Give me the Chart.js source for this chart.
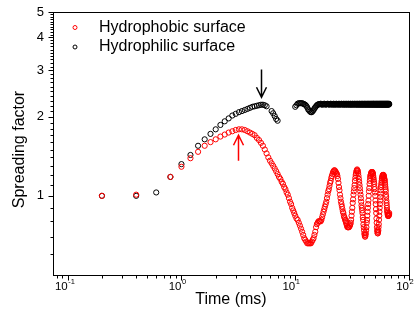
<!DOCTYPE html>
<html>
<head>
<meta charset="utf-8">
<script src="https://cdn.jsdelivr.net/npm/chart.js@4.4.1/dist/chart.umd.min.js"></script>
<style>
html,body{margin:0;padding:0;background:#fff;}
#wrap{width:420px;height:328px;}
</style>
</head>
<body>
<div id="wrap"><canvas id="spreadChart" width="420" height="328"></canvas></div>
<script>
// ======================================================
// DATA
// ======================================================

const times = [
    0.2,0.4,0.6,0.8,1,1.2,1.4,1.6,1.8,2,
    2.2,2.4,2.6,2.8,3,3.2,3.4,3.6,3.8,4,
    4.2,4.4,4.6,4.8,5,5.2,5.4,5.6,5.8,6,
    6.2,6.4,6.6,6.8,7,7.2,7.4,7.6,7.8,8,
    8.2,8.4,8.6,8.8,9,9.2,9.4,9.6,9.8,10,
    10.25,10.5,10.75,11,11.25,11.5,11.75,12,
    12.25,12.5,12.75,13,13.25,13.5,13.75,14,
    14.25,14.5,14.75,15,15.25,15.5,15.75,16,
    16.25,16.5,16.75,17,17.25,17.5,17.75,18,
    18.25,18.5,18.75,19,19.25,19.5,19.75,20,
    20.25,20.5,20.75,21,21.25,21.5,21.75,22,
    22.25,22.5,22.75,23,23.25,23.5,23.75,24,
    24.25,24.5,24.75,25,25.25,25.5,25.75,26,
    26.25,26.5,26.75,27,27.25,27.5,27.75,28,
    28.25,28.5,28.75,29,29.25,29.5,29.75,30,
    30.25,30.5,30.75,31,31.25,31.5,31.75,32,
    32.25,32.5,32.75,33,33.25,33.5,33.75,34,
    34.25,34.5,34.75,35,35.25,35.5,35.75,36,
    36.25,36.5,36.75,37,37.25,37.5,37.75,38,
    38.25,38.5,38.75,39,39.25,39.5,39.75,40,
    40.25,40.5,40.75,41,41.25,41.5,41.75,42,
    42.25,42.5,42.75,43,43.25,43.5,43.75,44,
    44.25,44.5,44.75,45,45.25,45.5,45.75,46,
    46.25,46.5,46.75,47,47.25,47.5,47.75,48,
    48.25,48.5,48.75,49,49.25,49.5,49.75,50,
    50.25,50.5,50.75,51,51.25,51.5,51.75,52,
    52.25,52.5,52.75,53,53.25,53.5,53.75,54,
    54.25,54.5,54.75,55,55.25,55.5,55.75,56,
    56.25,56.5,56.75,57,57.25,57.5,57.75,58,
    58.25,58.5,58.75,59,59.25,59.5,59.75,60,
    60.25,60.5,60.75,61,61.25,61.5,61.75,62,
    62.25,62.5,62.75,63,63.25,63.5,63.75,64,
    64.25,64.5,64.75,65,65.25,65.5,65.75,66,
    66.25,66.5,66.75,67
];

const hydrophobic = [
    1.00,1.01,null,1.18,1.29,1.39,1.47,1.55,1.60,1.64,
    1.68,1.71,1.74,1.76,1.78,1.79,1.79,1.78,1.76,1.74,
    1.72,1.70,1.66,1.63,1.59,1.55,1.50,1.45,1.40,1.36,
    1.33,1.30,1.27,1.24,1.21,1.18,1.16,1.13,1.11,1.08,
    1.06,1.03,1.01,0.98,0.95,0.93,0.90,0.88,0.86,0.84,
    0.82,0.81,0.79,0.77,0.75,0.73,0.71,0.69,
    0.68,0.67,0.66,0.66,0.66,0.66,0.66,0.67,
    0.68,0.69,0.71,0.73,0.76,0.78,0.79,0.80,
    0.80,0.80,0.80,0.81,0.83,0.85,0.87,0.89,
    0.91,0.93,0.95,0.98,1.01,1.04,1.06,1.09,
    1.12,1.14,1.17,1.19,1.21,1.23,1.24,1.25,
    1.25,1.24,1.23,1.22,1.21,1.19,1.16,1.12,
    1.08,1.05,1.01,0.98,0.95,0.93,0.91,0.89,
    0.87,0.86,0.84,0.83,0.82,0.81,0.80,0.79,
    0.78,0.77,0.76,0.76,0.76,0.76,0.76,0.77,
    0.77,0.78,0.79,0.81,0.84,0.87,0.90,0.94,
    0.97,1.01,1.04,1.07,1.10,1.14,1.17,1.20,
    1.22,1.24,1.25,1.26,1.25,1.24,1.22,1.19,
    1.16,1.13,1.10,1.07,1.04,1.01,0.98,0.95,
    0.92,0.90,0.88,0.86,0.83,0.81,0.78,0.76,
    0.74,0.72,0.71,0.70,0.70,0.71,0.72,0.74,
    0.76,0.79,0.81,0.84,0.87,0.90,0.93,0.96,
    1.00,1.04,1.07,1.11,1.14,1.17,1.19,1.20,
    1.21,1.22,1.23,1.23,1.23,1.23,1.23,1.22,
    1.21,1.19,1.17,1.15,1.13,1.11,1.08,1.06,
    1.03,1.00,0.96,0.93,0.89,0.86,0.82,0.79,
    0.76,0.74,0.73,0.72,0.72,0.73,0.74,0.76,
    0.78,0.81,0.84,0.87,0.90,0.93,0.96,0.99,
    1.02,1.05,1.08,1.10,1.12,1.14,1.16,1.17,
    1.18,1.19,1.20,1.20,1.20,1.20,1.20,1.19,
    1.18,1.17,1.16,1.15,1.14,1.12,1.10,1.08,
    1.06,1.04,1.01,0.99,0.96,0.94,0.92,0.90,
    0.88,0.87,0.86,0.85,0.84,0.84,0.84,0.84,
    0.84,0.85,0.85,0.86
];

const hydrophilic = [
    1.00,1.00,1.03,1.18,1.32,1.43,1.55,1.64,1.72,1.79,
    1.86,1.92,1.97,2.02,2.05,2.08,2.10,2.12,2.14,2.16,
    2.18,2.19,2.20,2.21,2.22,2.22,2.21,2.19,null,null,
    2.10,2.06,2.01,1.96,1.93,null,null,null,null,null,
    null,null,null,null,null,null,null,null,null,2.18,
    2.21,2.24,2.25,2.25,2.25,2.25,2.24,2.23,
    2.22,2.20,2.17,2.13,2.11,2.09,2.08,2.08,
    2.10,2.12,2.15,2.17,2.19,2.21,2.22,2.23,
    2.23,2.23,2.24,2.23,2.22,2.23,2.23,2.24,
    2.23,2.22,2.23,2.23,2.24,2.23,2.23,2.22,
    2.23,2.24,2.23,2.23,2.22,2.23,2.24,2.23,
    2.22,2.23,2.23,2.24,2.23,2.22,2.23,2.23,
    2.24,2.23,2.22,2.23,2.23,2.24,2.23,2.23,
    2.22,2.23,2.24,2.23,2.23,2.22,2.23,2.24,
    2.23,2.23,2.22,2.23,2.24,2.23,2.23,2.22,
    2.23,2.24,2.23,2.22,2.23,2.23,2.24,2.23,
    2.22,2.23,2.23,2.24,2.23,2.23,2.22,2.23,
    2.24,2.23,2.23,2.22,2.23,2.24,2.23,2.23,
    2.22,2.23,2.24,2.23,2.23,2.22,2.23,2.24,
    2.23,2.22,2.23,2.23,2.24,2.23,2.22,2.23,
    2.23,2.24,2.23,2.22,2.23,2.23,2.24,2.23,
    2.22,2.23,2.23,2.24,2.23,2.22,2.23,2.23,
    2.24,2.23,2.22,2.23,2.23,2.24,2.23,2.22,
    2.23,2.23,2.24,2.23,2.22,2.23,2.23,2.24,
    2.23,2.22,2.23,2.24,2.23,2.23,2.22,2.23,
    2.24,2.23,2.23,2.22,2.23,2.24,2.23,2.23,
    2.22,2.23,2.24,2.23,2.23,2.22,2.23,2.24,
    2.23,2.23,2.22,2.23,2.24,2.23,2.23,2.22,
    2.23,2.24,2.23,2.23,2.22,2.23,2.24,2.23,
    2.22,2.23,2.23,2.24,2.23,2.22,2.23,2.23,
    2.24,2.23,2.22,2.23,2.23,2.24,2.23,2.22,
    2.23,2.23,2.24,2.23,2.22,2.23,2.23,2.24,
    2.23,2.22,2.23,2.23,2.24,2.23,2.23,2.23,
    2.22,2.23,2.24,2.23
];

const seriesNames = ["Hydrophobic surface","Hydrophilic surface"];

// axis ticks
const xMajor = [0.1,1,10,100];
const xTickExp = ["-1","0","1","2"];
const yMajor = [1,2,3,4,5];
const yTickLabels = ["1","2","3","4","5"];

// arrows marking the maxima (time, from value, to value)
const arrows = [
    {t:5.0,  from:3.02, to:2.37, color:"#000"},
    {t:3.15, from:1.36, to:1.70, color:"#ff0000"}
];

// ======================================================
// AXIS / LEGEND DRAWING
// ======================================================

const FONT = '"Liberation Sans", Arial, sans-serif';

const xMinor = [0.01,0.1,1,10]
    .flatMap(d=>[2,3,4,5,6,7,8,9].map(k=>+(k*d).toFixed(3)))
    .filter(v=>v>0.0743 && v<100);

const yMinor = [0.6,0.7,0.8,0.9];
for(let v=1;v<5;v++){
    for(let k=1;k<10;k++) yMinor.push(+(v+k/10).toFixed(2));
}

const framePlugin = {

    id:"frame",

    afterDatasetsDraw(chart){

        const {ctx, chartArea:a, scales} = chart;
        const xs = scales.x, ys = scales.y;

        const L = Math.round(a.left)+0.5;
        const R = Math.round(a.right)+0.5;
        const T = Math.round(a.top)+0.5;
        const B = Math.round(a.bottom)+0.5;

        ctx.save();

        ctx.strokeStyle = "#000";
        ctx.lineWidth = 1;
        ctx.strokeRect(L, T, R-L, B-T);

        // ticks (outward)
        ctx.beginPath();
        xMajor.forEach(v=>{
            const p = Math.round(xs.getPixelForValue(v))+0.5;
            ctx.moveTo(p, B); ctx.lineTo(p, B+5);
        });
        xMinor.forEach(v=>{
            const p = Math.round(xs.getPixelForValue(v))+0.5;
            ctx.moveTo(p, B); ctx.lineTo(p, B+3);
        });
        yMajor.forEach(v=>{
            const p = Math.round(ys.getPixelForValue(v))+0.5;
            ctx.moveTo(L, p); ctx.lineTo(L-5, p);
        });
        yMinor.forEach(v=>{
            const p = Math.round(ys.getPixelForValue(v))+0.5;
            ctx.moveTo(L, p); ctx.lineTo(L-3, p);
        });
        ctx.stroke();

        // tick labels
        ctx.fillStyle = "#000";
        xMajor.forEach((v,i)=>{
            const p = xs.getPixelForValue(v);
            ctx.font = "11.5px "+FONT;
            ctx.textAlign = "right";
            ctx.textBaseline = "alphabetic";
            ctx.fillText("10", p, B+14);
            ctx.font = "7.5px "+FONT;
            ctx.textAlign = "left";
            ctx.fillText(xTickExp[i], p+0.5, B+8);
        });

        ctx.font = "13px "+FONT;
        ctx.textAlign = "right";
        ctx.textBaseline = "middle";
        yMajor.forEach((v,i)=>{
            ctx.fillText(yTickLabels[i], L-9.5, ys.getPixelForValue(v));
        });

        // axis titles
        ctx.font = "16px "+FONT;
        ctx.textAlign = "center";
        ctx.textBaseline = "middle";
        ctx.fillText("Time (ms)", (a.left+a.right)/2, B+24);

        ctx.save();
        ctx.translate(20, (a.top+a.bottom)/2+6);
        ctx.rotate(-Math.PI/2);
        ctx.fillText("Spreading factor", 0, 0);
        ctx.restore();

        // arrows
        arrows.forEach(ar=>{
            const x = Math.round(xs.getPixelForValue(ar.t))+0.5;
            const y0 = ys.getPixelForValue(ar.from);
            const y1 = ys.getPixelForValue(ar.to);
            const dir = y1>y0 ? 1 : -1;
            ctx.strokeStyle = ar.color;
            ctx.lineWidth = 1.5;
            ctx.beginPath();
            ctx.moveTo(x, y0); ctx.lineTo(x, y1);
            ctx.moveTo(x-5, y1-dir*10); ctx.lineTo(x, y1); ctx.lineTo(x+5, y1-dir*10);
            ctx.stroke();
        });

        // legend
        chart.data.datasets.forEach((ds,i)=>{
            const y = a.top+15.5+i*19.5;
            ctx.strokeStyle = ds.borderColor;
            ctx.lineWidth = 1;
            ctx.beginPath();
            ctx.arc(a.left+22, y, 2, 0, Math.PI*2);
            ctx.stroke();
            ctx.fillStyle = "#000";
            ctx.font = "16px "+FONT;
            ctx.textAlign = "left";
            ctx.textBaseline = "middle";
            ctx.fillText(ds.label, a.left+46, y);
        });

        ctx.restore();

    }

};

// ======================================================
// CHART
// ======================================================

new Chart(document.getElementById("spreadChart"),{

    type:"line",

    plugins:[framePlugin],

    data:{

        labels:times,

        datasets:[
            {
                label:seriesNames[0],
                data:hydrophobic,
                borderColor:"#ff0000",
                backgroundColor:"rgba(0,0,0,0)",
                showLine:false,
                pointRadius:2.6,
                pointBorderWidth:1
            },
            {
                label:seriesNames[1],
                data:hydrophilic,
                borderColor:"#000000",
                backgroundColor:"rgba(0,0,0,0)",
                showLine:false,
                pointRadius:2.6,
                pointBorderWidth:1
            }
        ]

    },

    options:{

        responsive:false,
        animation:false,
        devicePixelRatio:1,
        events:[],

        layout:{
            padding:{left:0, top:12, right:11, bottom:0}
        },

        plugins:{
            legend:{display:false},
            tooltip:{enabled:false}
        },

        scales:{

            x:{
                type:"logarithmic",
                min:0.0743,
                max:100,
                ticks:{display:false},
                grid:{display:false},
                border:{display:false},
                afterFit:s=>{ s.height = 53; }
            },

            y:{
                type:"logarithmic",
                min:0.5,
                max:5,
                ticks:{display:false},
                grid:{display:false},
                border:{display:false},
                afterFit:s=>{ s.width = 53; }
            }

        }

    }

});
</script>
</body>
</html>
